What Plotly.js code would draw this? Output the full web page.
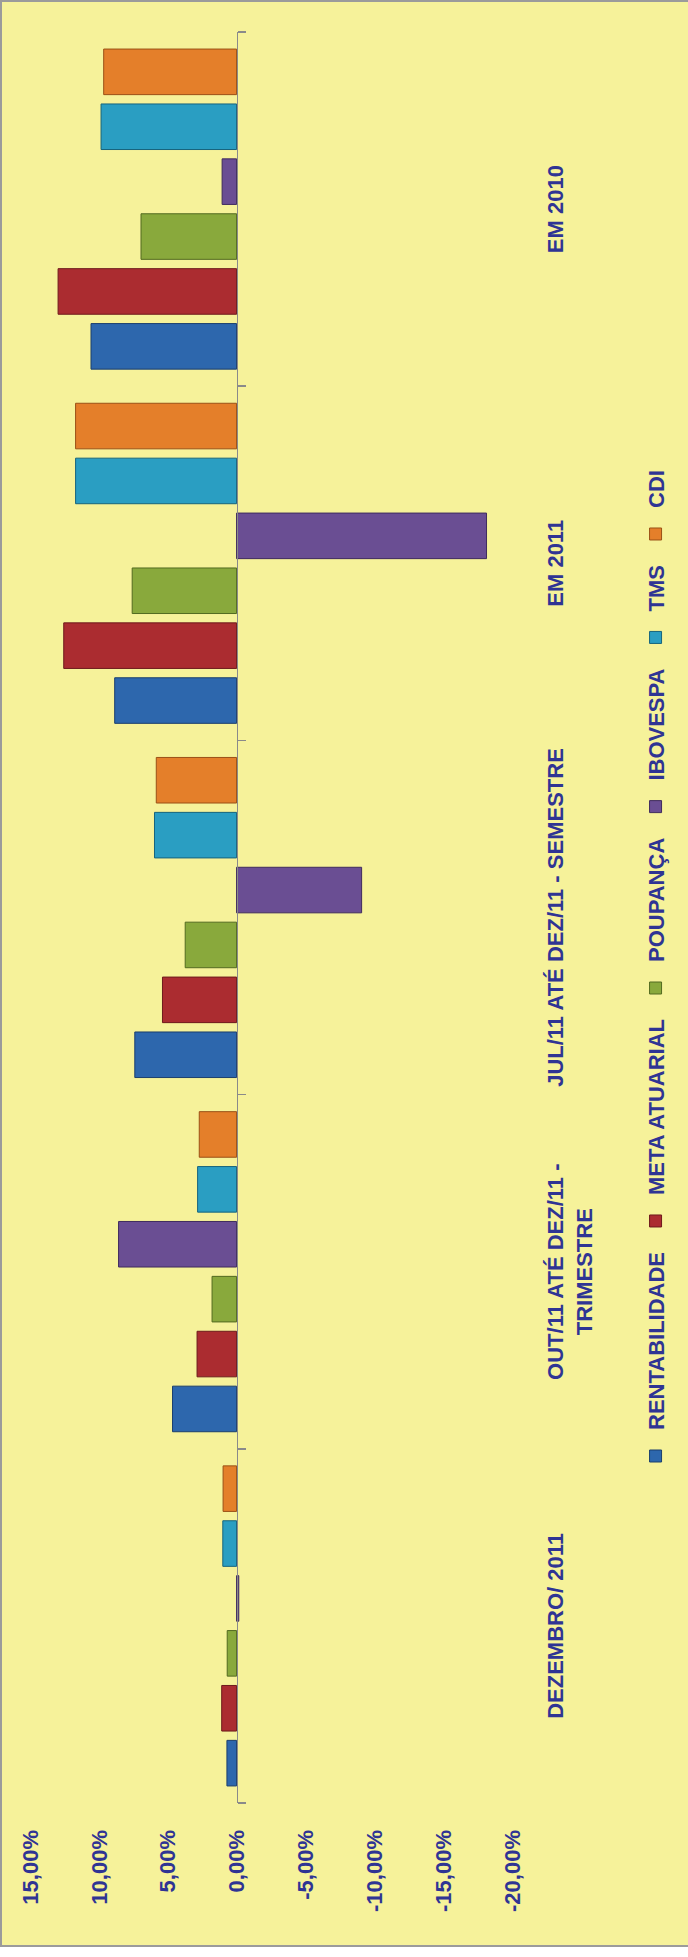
<!DOCTYPE html>
<html>
<head>
<meta charset="utf-8">
<script src="https://cdn.plot.ly/plotly-3.0.1.min.js"></script>
<style>
  html, body { margin:0; padding:0; width:688px; height:1957px; overflow:hidden; background:#ffffff; }
  #wrap { position:absolute; left:0; top:0; width:1957px; height:688px; overflow:hidden;
          transform-origin:0 0; transform: translateY(1957px) rotate(-90deg); background:#ffffff; }
  #frame { position:absolute; left:10px; top:0px; width:1943px; height:700px;
           border:2px solid #9b9b9b; background:#F6F29A; }
  #chart { position:absolute; left:0; top:0; width:1943px; height:686px; }
</style>
</head>
<body>
<div id="wrap"><div id="frame"><div id="chart"></div></div></div>
<script>
// Categories (left to right in the unrotated chart = bottom to top on the page)
const categories = [
  "DEZEMBRO/ 2011",
  "OUT/11 ATÉ DEZ/11 -<br>TRIMESTRE",
  "JUL/11 ATÉ DEZ/11 - SEMESTRE",
  "EM 2011",
  "EM 2010"
];
// Series values (fractions)
const rentabilidade = [0.0070, 0.0465, 0.0739, 0.0885, 0.1057];
const metaAtuarial  = [0.0108, 0.0287, 0.0538, 0.1255, 0.1296];
const poupanca      = [0.0068, 0.0178, 0.0373, 0.0758, 0.0694];
const ibovespa      = [-0.0016, 0.0857, -0.0908, -0.1815, 0.0105];
const tms           = [0.0100, 0.0283, 0.0596, 0.1169, 0.0984];
const cdi           = [0.0098, 0.0271, 0.0583, 0.1169, 0.0965];

// Value-axis ticks
const valueTicks  = [-0.20, -0.15, -0.10, -0.05, 0, 0.05, 0.10, 0.15];
const valueLabels = ["-20,00%", "-15,00%", "-10,00%", "-5,00%", "0,00%", "5,00%", "10,00%", "15,00%"];

const seriesNames = ["RENTABILIDADE", "META ATUARIAL", "POUPANÇA", "IBOVESPA", "TMS", "CDI"];
const seriesValues = [rentabilidade, metaAtuarial, poupanca, ibovespa, tms, cdi];
const fillColors = ["#2d67ad", "#ab2c30", "#89a93c", "#6a4e93", "#2a9ec2", "#e47f2a"];
const lineColors = ["#1b3f6e", "#6e1a1c", "#526a20", "#3f2b5e", "#16647d", "#9a5016"];

const textColor = "#2f3494";
const fontFamily = "'Liberation Sans', Arial, sans-serif";

const traces = seriesNames.map((name, i) => ({
  type: "bar",
  name: name,
  x: categories,
  y: seriesValues[i],
  marker: { color: fillColors[i], line: { color: lineColors[i], width: 1 } },
  hoverinfo: "skip"
}));

// invisible helper trace so the zero-positioned category axis (line + boundary ticks) is drawn
traces.push({
  type: "scatter", x: categories, y: rentabilidade, xaxis: "x2", mode: "none",
  showlegend: false, hoverinfo: "skip"
});

const layout = {
  width: 1943,
  height: 686,
  margin: { l: 142, r: 30, t: 28, b: 176 },
  paper_bgcolor: "rgba(0,0,0,0)",
  plot_bgcolor: "rgba(0,0,0,0)",
  barmode: "group",
  bargap: 0.07,
  bargroupgap: 0.17,
  font: { family: fontFamily, size: 22, color: textColor, weight: "bold" },
  showlegend: true,
  legend: {
    orientation: "h",
    xref: "container", x: 0.5, xanchor: "center",
    yref: "container", y: 0.047, yanchor: "middle",
    bgcolor: "rgba(0,0,0,0)",
    itemwidth: 42,
    font: { family: fontFamily, size: 22, color: textColor, weight: "bold" },
    traceorder: "normal"
  },
  xaxis: {
    type: "category",
    range: [-0.5, 4.5],
    showline: false, ticks: "", showgrid: false, zeroline: false,
    tickangle: 0,
    ticklabelstandoff: 28,
    tickfont: { family: fontFamily, size: 22, color: textColor, weight: "bold" }
  },
  xaxis2: {
    type: "category",
    overlaying: "x",
    anchor: "free",
    position: 0.5714,
    range: [-0.5, 4.5],
    showline: true, linecolor: "#8a8a8a", linewidth: 1.5,
    ticks: "outside", tickson: "boundaries", ticklen: 8, tickcolor: "#8a8a8a", tickwidth: 1.5,
    showticklabels: false, showgrid: false, zeroline: false
  },
  yaxis: {
    range: [-0.2, 0.15],
    tickmode: "array",
    tickvals: valueTicks,
    ticktext: valueLabels,
    showgrid: false, zeroline: false, showline: false, ticks: "",
    ticklabelstandoff: 26,
    tickfont: { family: fontFamily, size: 22, color: textColor, weight: "bold" }
  }
};

Plotly.newPlot("chart", traces, layout, { staticPlot: true, displayModeBar: false });
</script>
</body>
</html>
